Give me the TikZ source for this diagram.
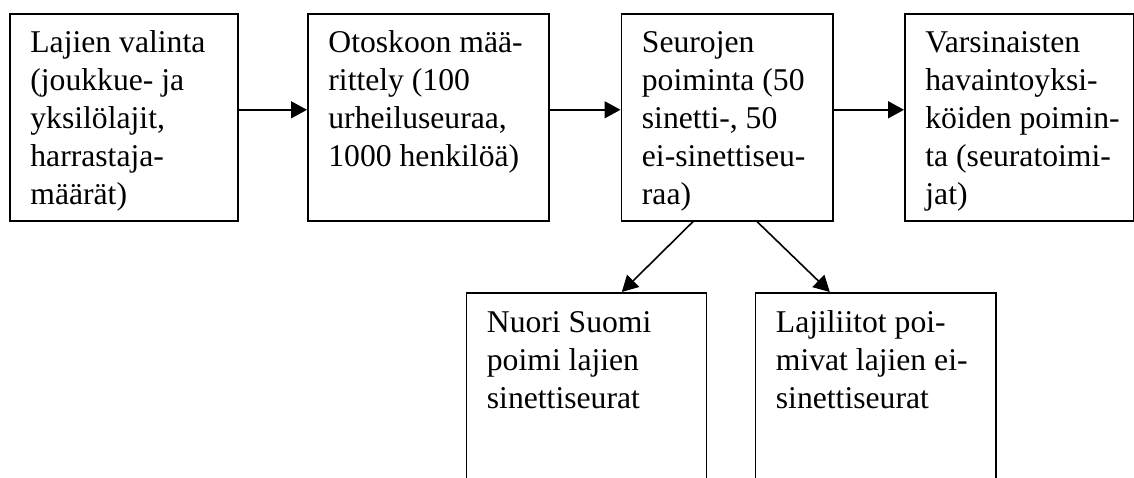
\documentclass[tikz,border=0pt]{standalone}
\usepackage{fontspec}
\setmainfont{Liberation Serif}
\usetikzlibrary{arrows.meta,calc}
\begin{document}
\begin{tikzpicture}[x=0.5pt,y=-0.5pt,
  boxnode/.style={draw, line width=0.8pt, rectangle, inner sep=0pt, anchor=north west},
  txt/.style={inner sep=0pt, anchor=base west, font=\fontsize{15.83pt}{19pt}\selectfont},
  arr/.style={line width=0.8pt, -{Triangle[length=8pt,width=8.5pt]}}]
\useasboundingbox (0,0) rectangle (1134,477);
\clip (0,0) rectangle (1134,477);
% boxes
\node[boxnode, minimum width=114pt, minimum height=103.5pt] (b1) at (9,13) {};
\node[boxnode, minimum width=120.5pt, minimum height=103.5pt] (b2) at (307,13) {};
\node[boxnode, minimum width=105.75pt, minimum height=103.5pt] (b3) at (620.5,13) {};
\node[boxnode, minimum width=114.25pt, minimum height=103.5pt] (b4) at (904,13) {};
\node[boxnode, minimum width=120pt, minimum height=104pt] (b5) at (465.5,292) {};
\node[boxnode, minimum width=120.25pt, minimum height=104pt] (b6) at (754.5,292) {};
% texts
\node[txt] (t1) at ($(b1.north west)+(21,39)$) {\parbox[t]{200pt}{\raggedright Lajien valinta\\(joukkue- ja\\yksilölajit,\\harrastaja-\\määrät)}};
\node[txt] (t2) at ($(b2.north west)+(21,39)$) {\parbox[t]{200pt}{\raggedright Otoskoon mää-\\rittely (100\\urheiluseuraa,\\1000 henkilöä)}};
\node[txt] (t3) at ($(b3.north west)+(21,39)$) {\parbox[t]{200pt}{\raggedright Seurojen\\poiminta (50\\sinetti-, 50\\ei-sinettiseu-\\raa)}};
\node[txt] (t4) at ($(b4.north west)+(21,39)$) {\parbox[t]{200pt}{\raggedright Varsinaisten\\havaintoyksi-\\köiden poimin-\\ta (seuratoimi-\\jat)}};
\node[txt] (t5) at ($(b5.north west)+(21,40)$) {\parbox[t]{200pt}{\raggedright Nuori Suomi\\poimi lajien\\sinettiseurat}};
\node[txt] (t6) at ($(b6.north west)+(21,40)$) {\parbox[t]{200pt}{\raggedright Lajiliitot poi-\\mivat lajien ei-\\sinettiseurat}};
% arrows
\draw[arr] ($(b1.east)+(0,-7.5)$) -- ($(b2.west)+(0,-7.5)$);
\draw[arr] ($(b2.east)+(0,-7.5)$) -- ($(b3.west)+(0,-7.5)$);
\draw[arr] ($(b3.east)+(0,-7.5)$) -- ($(b4.west)+(0,-7.5)$);
\draw[arr] ($(b3.south)+(-34,0)$) -- ($(b5.north)+(35.5,0)$);
\draw[arr] ($(b3.south)+(30,0)$) -- ($(b6.north)+(-45.75,0)$);
\end{tikzpicture}
\end{document}
